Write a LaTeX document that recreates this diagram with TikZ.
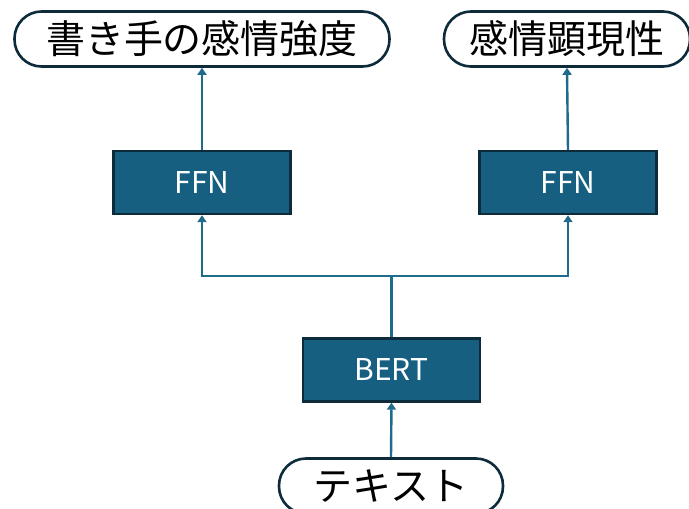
\documentclass[tikz,border=0pt]{standalone}
\usepackage{fontspec}
\setmainfont{Noto Sans CJK JP}
\usetikzlibrary{arrows.meta}
\definecolor{boxfill}{HTML}{175F80}
\definecolor{boxedge}{HTML}{0D2B3B}
\definecolor{linec}{HTML}{1E6B8C}
\tikzset{
  modelbox/.style={draw=boxedge, line width=2.4pt, fill=boxfill, text=white,
    minimum width=177pt, minimum height=63pt, inner sep=0pt,
    font=\fontsize{30}{34}\selectfont},
  labelpill/.style={draw=boxedge, line width=2.6pt, fill=white, text=black,
    rounded corners=27pt, minimum height=55pt, inner sep=0pt,
    font=\fontsize{39}{44}\selectfont},
  conn/.style={draw=linec, line width=2.4pt, -{Triangle[width=9pt,length=7pt]}},
  plain/.style={draw=linec, line width=2.4pt}
}
\begin{document}
\begin{tikzpicture}[x=1pt,y=-1pt]
\useasboundingbox (0,0) rectangle (689,509);
\node[labelpill, minimum width=375pt] (w) at (202,39) {書き手の感情強度};
\node[labelpill, minimum width=246pt] (s) at (567,39) {感情顕現性};
\node[modelbox] (f1) at (202,182.5) {FFN};
\node[modelbox] (f2) at (568,182.5) {FFN};
\node[modelbox] (b) at (391.5,370) {BERT};
\node[labelpill, minimum width=224pt] (t) at (391,486) {テキスト};
\coordinate (j) at (391.5,276);
\draw[conn] (t.north) -- (b.south);
\draw[plain] (b.north) -- (j);
\draw[conn] (j) -| (f1.south);
\draw[conn] (j) -| (f2.south);
\draw[conn] (f1.north) -- (w.south);
\draw[conn] (f2.north) -- (s.south);
\end{tikzpicture}
\end{document}
